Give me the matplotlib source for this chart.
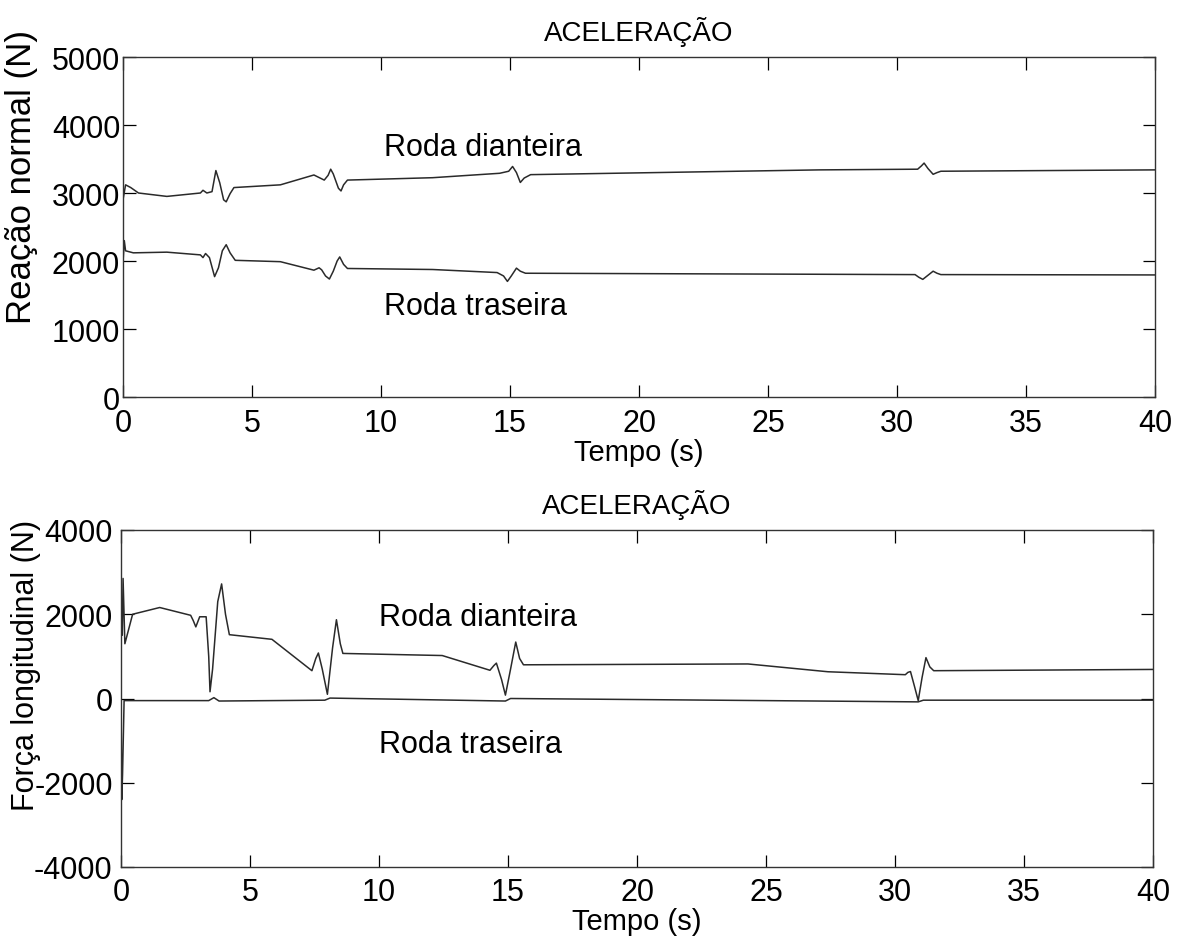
import matplotlib
matplotlib.use("Agg")
import matplotlib.pyplot as plt

plt.rcParams['font.family'] = ['Liberation Sans', 'DejaVu Sans']
plt.rcParams['axes.unicode_minus'] = False

# ---- data ----
title_text = "ACELERAÇÃO"
xlabel_text = "Tempo (s)"
ylabel_top = "Reação normal (N)"
ylabel_bot = "Força longitudinal (N)"
label_front = "Roda dianteira"
label_rear = "Roda traseira"

x_ticks = [0, 5, 10, 15, 20, 25, 30, 35, 40]
y_ticks_top = [0, 1000, 2000, 3000, 4000, 5000]
y_ticks_bot = [-4000, -2000, 0, 2000, 4000]

# Top: normal reaction
t_top_front = [0, 0.1, 0.3, 0.6, 1.7, 3.0, 3.1, 3.25, 3.45, 3.6, 3.75, 3.9, 4.0, 4.15,
               4.3, 6.1, 7.4, 7.8, 7.95, 8.05, 8.15, 8.35, 8.45, 8.55, 8.7, 12.0,
               14.6, 14.95, 15.1, 15.25, 15.4, 15.55, 15.8, 27.0, 30.8, 30.95, 31.05,
               31.2, 31.4, 31.55, 31.7, 40]
v_top_front = [2900, 3120, 3080, 3000, 2950, 3000, 3040, 3000, 3020, 3330, 3150, 2900,
               2870, 2990, 3080, 3120, 3265, 3190, 3260, 3350, 3280, 3070, 3030, 3120,
               3190, 3225, 3290, 3320, 3390, 3300, 3155, 3220, 3270, 3340, 3350, 3400,
               3440, 3360, 3275, 3300, 3320, 3340]

t_top_rear = [0, 0.05, 0.1, 0.4, 1.7, 3.0, 3.1, 3.2, 3.35, 3.55, 3.7, 3.85, 4.0, 4.15,
              4.35, 6.1, 7.4, 7.6, 7.7, 7.85, 8.0, 8.15, 8.3, 8.4, 8.55, 8.7, 12.0,
              14.5, 14.75, 14.9, 15.05, 15.25, 15.4, 15.6, 30.7, 30.85, 31.0, 31.2,
              31.4, 31.55, 31.7, 40]
v_top_rear = [1980, 2300, 2150, 2120, 2130, 2090, 2050, 2110, 2050, 1770, 1900, 2150,
              2240, 2120, 2010, 1990, 1865, 1900, 1870, 1780, 1735, 1850, 2000, 2060,
              1950, 1890, 1875, 1830, 1780, 1700, 1780, 1895, 1850, 1820, 1800, 1760,
              1730, 1790, 1850, 1820, 1800, 1795]

# Bottom: longitudinal force
t_bot_front = [0, 0.05, 0.08, 0.15, 0.45, 1.5, 2.7, 2.8, 2.9, 3.05, 3.3, 3.4, 3.45,
               3.55, 3.75, 3.9, 4.05, 4.2, 5.85, 7.4, 7.55, 7.65, 7.8, 8.0, 8.2, 8.35,
               8.5, 8.6, 12.45, 14.3, 14.45, 14.55, 14.75, 14.9, 15.1, 15.3, 15.45,
               15.6, 24.3, 27.4, 30.4, 30.5, 30.6, 30.75, 30.9, 31.05, 31.2, 31.35,
               31.5, 40]
v_bot_front = [2400, 1500, 2850, 1300, 2000, 2160, 1975, 1850, 1700, 1940, 1940, 1000,
               160, 700, 2300, 2720, 2000, 1515, 1405, 660, 950, 1080, 700, 100, 1200,
               1870, 1300, 1070, 1020, 670, 780, 840, 450, 80, 700, 1340, 950, 800,
               820, 635, 565, 620, 640, 300, -50, 500, 970, 750, 660, 690]

t_bot_rear = [0, 0.03, 0.06, 0.12, 3.4, 3.6, 3.8, 7.9, 8.1, 14.9, 15.1, 30.9, 31.1, 40]
v_bot_rear = [0, -2400, -1800, -50, -50, 20, -60, -40, 10, -60, 0, -80, -40, -40]

# ---- figure ----
fig = plt.figure(figsize=(11.89, 9.45), dpi=100)
ax1 = fig.add_axes([123/1189, 1-398/945, 1032/1189, 340/945])
ax2 = fig.add_axes([121/1189, 1-868/945, 1032/1189, 337/945])

line_kw = dict(color='#2a2a2a', lw=1.1)
fs_tick = 22
fs_text = 22

for ax, xpad, ypad in ((ax1, 8, 2), (ax2, 7, 6)):
    ax.set_xlim(0, 40)
    ax.set_xticks(x_ticks)
    ax.tick_params(direction='in', length=9, width=0.9, top=True, right=True,
                   labelsize=fs_tick)
    ax.tick_params(axis='y', pad=ypad)
    ax.tick_params(axis='x', pad=xpad)
    for s in ax.spines.values():
        s.set_linewidth(1.0)
        s.set_color('#333333')
    ax.set_xlabel(xlabel_text, fontsize=21, labelpad=0)
    ax.set_title(title_text, fontsize=20, pad=12)

ax1.plot(t_top_front, v_top_front, **line_kw)
ax1.plot(t_top_rear, v_top_rear, **line_kw)
ax1.set_ylim(0, 5000)
ax1.set_yticks(y_ticks_top)
ax1.set_ylabel(ylabel_top, fontsize=25)
ax1.yaxis.set_label_coords(-0.082, 0.65)
ax1.text(10.1, 3680, label_front, fontsize=fs_text, va='center', ha='left')
ax1.text(10.1, 1340, label_rear, fontsize=fs_text, va='center', ha='left')

ax2.plot(t_bot_front, v_bot_front, **line_kw)
ax2.plot(t_bot_rear, v_bot_rear, **line_kw)
ax2.set_ylim(-4000, 4000)
ax2.set_yticks(y_ticks_bot)
ax2.set_ylabel(ylabel_bot, fontsize=22)
ax2.yaxis.set_label_coords(-0.078, 0.6)
ax2.text(10.0, 1930, label_front, fontsize=fs_text, va='center', ha='left')
ax2.text(10.0, -1070, label_rear, fontsize=fs_text, va='center', ha='left')

fig.savefig("out.png", dpi=100)
